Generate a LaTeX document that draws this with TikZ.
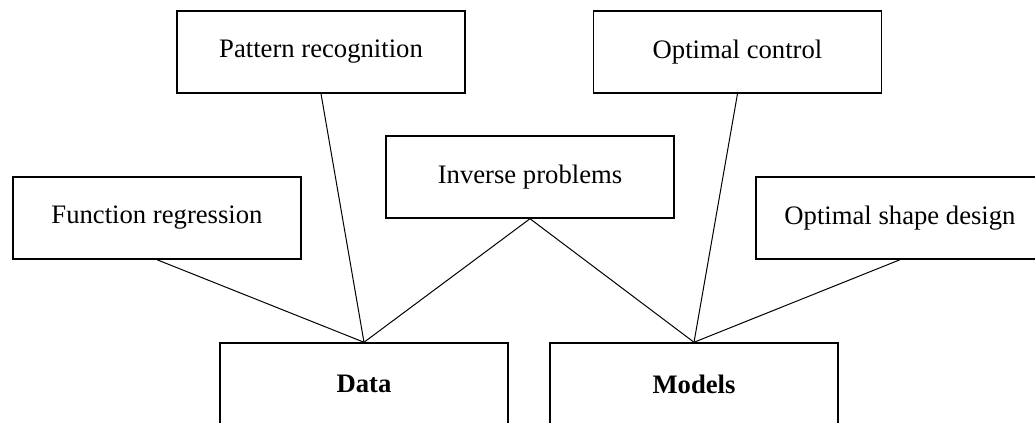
\documentclass[tikz,border=0pt]{standalone}
\usepackage{fontspec}
\setmainfont{Liberation Serif}
\begin{document}
\begin{tikzpicture}%
  [x=0.75pt,y=-0.75pt]
  \tikzstyle{box node}=[rectangle,draw,line width=1.1pt,inner sep=0,
    minimum width=216pt,minimum height=61.5pt,font=\fontsize{20}{24}\selectfont]
  \tikzstyle{base node}=[box node,font=\fontsize{20}{24}\selectfont\bfseries]
  \tikzstyle{link}=[line width=0.75pt]
  \useasboundingbox (0,0) rectangle (1035,423);
  % application boxes
  \node(pat)[box node] at (321,52) {Pattern recognition};
  \node(ctl)[box node] at (737.5,52) {Optimal control};
  \node(inv)[box node] at (530,177) {Inverse problems};
  \node(fun)[box node] at (157,218) {Function regression};
  \node(shp)[box node] at (900,218) {Optimal shape design};
  % bottom boxes
  \node(dat)[base node] at (364,384) {Data};
  \node(mod)[base node] at (694,384) {Models};
  \draw[link] (fun.south) -- (dat.north);
  \draw[link] (pat.south) -- (dat.north);
  \draw[link] (inv.south) -- (dat.north);
  \draw[link] (inv.south) -- (mod.north);
  \draw[link] (ctl.south) -- (mod.north);
  \draw[link] (shp.south) -- (mod.north);
\end{tikzpicture}
\end{document}
